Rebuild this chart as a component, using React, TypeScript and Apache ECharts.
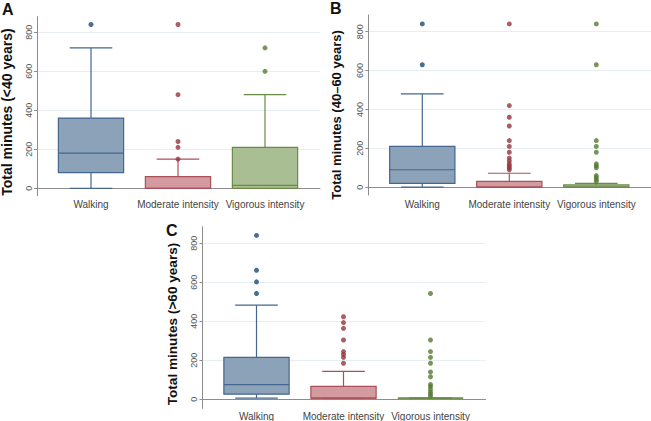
import React, { useEffect, useRef } from "react";
import * as echarts from "echarts";

const categories = ["Walking", "Moderate intensity", "Vigorous intensity"];
const yTickValues = [0, 200, 400, 600, 800];

// [min, Q1, median, Q3, max] per category
const boxesA = [
  [0, 80, 180, 360, 720],
  [0, 0, 0, 60, 150],
  [0, 0, 15, 210, 480],
];
const outliersA = [[840], [150, 210, 240, 480, 840], [600, 720]];

const boxesB = [
  [0, 20, 90, 210, 480],
  [0, 0, 0, 30, 72],
  [0, 0, 0, 12, 20],
];
const outliersB = [
  [630, 840],
  [90, 100, 110, 120, 135, 150, 180, 210, 240, 315, 360, 420, 840],
  [30, 40, 50, 60, 100, 110, 120, 180, 210, 240, 630, 840],
];

const boxesC = [
  [0, 20, 70, 210, 480],
  [0, 0, 0, 60, 138],
  [0, 0, 0, 0, 0],
];
const outliersC = [
  [540, 600, 660, 840],
  [180, 210, 225, 240, 300, 360, 390, 420],
  [10, 20, 30, 45, 60, 70, 110, 135, 180, 210, 240, 300, 540],
];

const axisTitles = [
  "Total minutes (<40 years)",
  "Total minutes (40\u201360 years)",
  "Total minutes (>60 years)",
];
const panelLetters = ["A", "B", "C"];

const lineColors = ["#45668f", "#a9505a", "#6a8b47"];
const fillColors = ["#8ba2b9", "#d39aa0", "#a9bf93"];
const dotColors = ["#1d4a74", "#93363f", "#587a33"];

const panels = [
  { left: 37, top: 16.7, width: 283, height: 179, min: -38, max: 880, letterX: 2, letterY: 1, titleX: 7, titleY: 112, titleSize: 14 },
  { left: 368.3, top: 15, width: 282.7, height: 180, min: -40, max: 886, letterX: 330, letterY: 0, titleX: 336.5, titleY: 115, titleSize: 13 },
  { left: 202.5, top: 226.7, width: 283, height: 181.6, min: -46, max: 885, letterX: 166, letterY: 222, titleX: 172, titleY: 324, titleSize: 13.6 },
];
const panelBoxes = [boxesA, boxesB, boxesC];
const panelOutliers = [outliersA, outliersB, outliersC];

export default function App() {
  const ref = useRef<HTMLDivElement>(null);
  useEffect(() => {
    if (!ref.current) return;
    const chart = echarts.init(ref.current, null, { renderer: "svg" });
    const grid: any[] = [];
    const xAxis: any[] = [];
    const yAxis: any[] = [];
    const series: any[] = [];
    const graphic: any[] = [];

    panels.forEach((p, pi) => {
      const fi = pi * 2;
      const di = pi * 2 + 1;
      grid.push({ left: p.left, top: p.top, width: p.width, height: p.height });
      grid.push({ left: p.left + 10.5, top: p.top, width: 261, height: p.height });
      xAxis.push({
        type: "value",
        gridIndex: fi,
        min: 0,
        max: 1,
        axisLine: { show: true, lineStyle: { color: "#8c8c8c", width: 1 } },
        axisTick: { show: false },
        axisLabel: { show: false },
        splitLine: { show: false },
      });
      xAxis.push({
        type: "category",
        gridIndex: di,
        data: categories,
        boundaryGap: true,
        axisLine: { show: false },
        axisTick: { show: false },
        axisLabel: {
          fontSize: 10,
          color: "#444",
          margin: 4,
          fontFamily: "Liberation Sans, Arial, sans-serif",
          interval: 0,
        },
      });
      yAxis.push({
        type: "value",
        gridIndex: fi,
        min: p.min,
        max: p.max,
        axisLine: { show: true, lineStyle: { color: "#8c8c8c", width: 1 } },
        axisTick: {
          show: true,
          length: 3,
          customValues: yTickValues,
          lineStyle: { color: "#8c8c8c" },
        },
        axisLabel: {
          customValues: yTickValues,
          rotate: 90,
          fontSize: 9,
          color: "#555",
          margin: 4,
          fontFamily: "Liberation Sans, Arial, sans-serif",
        },
        splitLine: { show: true, lineStyle: { color: "#e6eef1", width: 1 } },
      });
      yAxis.push({
        type: "value",
        gridIndex: di,
        min: p.min,
        max: p.max,
        show: false,
        splitLine: { show: false },
      });

      const boxes = panelBoxes[pi];
      series.push({
        type: "custom",
        xAxisIndex: di,
        yAxisIndex: di,
        data: boxes.map((b, i) => [i, ...b]),
        encode: { x: 0, y: [1, 2, 3, 4, 5] },
        renderItem: (params: any, api: any) => {
          const i = api.value(0);
          const pMin = api.coord([i, api.value(1)]);
          const pQ1 = api.coord([i, api.value(2)]);
          const pMed = api.coord([i, api.value(3)]);
          const pQ3 = api.coord([i, api.value(4)]);
          const pMax = api.coord([i, api.value(5)]);
          const band = api.size([1, 0])[0];
          const bw = band * 0.75;
          const cw = band * 0.49;
          const cx = pMed[0];
          const stroke = lineColors[i];
          const ls = { stroke, lineWidth: 1.2 };
          return {
            type: "group",
            children: [
              { type: "line", shape: { x1: cx, y1: pQ3[1], x2: cx, y2: pMax[1] }, style: ls },
              { type: "line", shape: { x1: cx, y1: pQ1[1], x2: cx, y2: pMin[1] }, style: ls },
              { type: "line", shape: { x1: cx - cw / 2, y1: pMax[1], x2: cx + cw / 2, y2: pMax[1] }, style: ls },
              { type: "line", shape: { x1: cx - cw / 2, y1: pMin[1], x2: cx + cw / 2, y2: pMin[1] }, style: ls },
              {
                type: "rect",
                shape: { x: cx - bw / 2, y: pQ3[1], width: bw, height: pQ1[1] - pQ3[1] },
                style: { fill: fillColors[i], stroke, lineWidth: 1.2 },
              },
              { type: "line", shape: { x1: cx - bw / 2, y1: pMed[1], x2: cx + bw / 2, y2: pMed[1] }, style: ls },
            ],
          };
        },
        z: 2,
      });
      const outs = panelOutliers[pi];
      series.push({
        type: "scatter",
        xAxisIndex: di,
        yAxisIndex: di,
        symbolSize: 5,
        data: outs.flatMap((arr, i) => arr.map((v) => [i, v])),
        itemStyle: { color: (prm: any) => dotColors[prm.data[0]] },
        z: 3,
      });

      graphic.push({
        type: "text",
        left: p.letterX,
        top: p.letterY,
        style: {
          text: panelLetters[pi],
          font: "bold 16px Liberation Sans, Arial, sans-serif",
          fill: "#111",
        },
      });
      graphic.push({
        type: "text",
        x: p.titleX,
        y: p.titleY,
        rotation: Math.PI / 2,
        style: {
          text: axisTitles[pi],
          x: 0,
          y: 0,
          align: "center",
          verticalAlign: "middle",
          font: `bold ${p.titleSize}px Liberation Sans, Arial, sans-serif`,
          fill: "#111",
        },
      });
    });

    chart.setOption({
      animation: false,
      backgroundColor: "#ffffff",
      grid,
      xAxis,
      yAxis,
      series,
      graphic,
    });
    return () => chart.dispose();
  }, []);
  return <div ref={ref} style={{ width: 651, height: 421, position: "absolute", left: 0, top: 0 }} />;
}
